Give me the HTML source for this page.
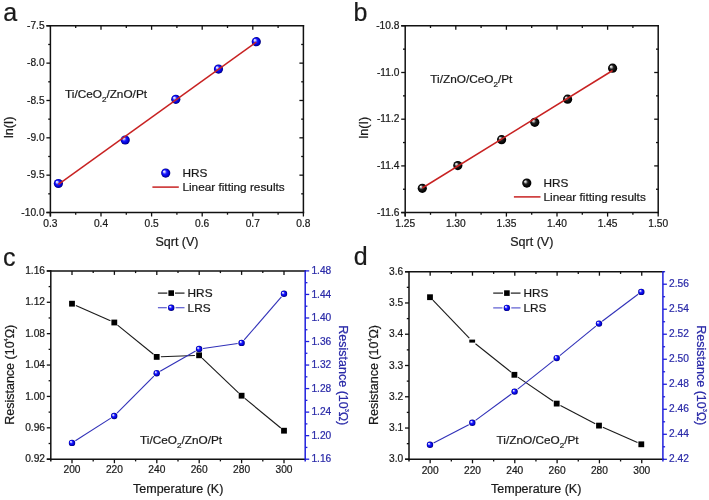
<!DOCTYPE html><html><head><meta charset="utf-8"><style>html,body{margin:0;padding:0;background:#fff;}svg{display:block;will-change:transform;}</style></head><body>
<svg width="709" height="500" viewBox="0 0 709 500" font-family="Liberation Sans, sans-serif">
<defs><radialGradient id="gb" cx="0.5" cy="0.5" r="0.5" fx="0.3" fy="0.3"><stop offset="0" stop-color="#ffffff"/><stop offset="0.18" stop-color="#c8c8ff"/><stop offset="0.45" stop-color="#1c1cff"/><stop offset="0.8" stop-color="#0000d0"/><stop offset="1" stop-color="#000070"/></radialGradient><radialGradient id="gk" cx="0.5" cy="0.5" r="0.5" fx="0.3" fy="0.3"><stop offset="0" stop-color="#ffffff"/><stop offset="0.2" stop-color="#bbbbbb"/><stop offset="0.45" stop-color="#222"/><stop offset="0.8" stop-color="#050505"/><stop offset="1" stop-color="#000"/></radialGradient></defs>
<rect width="709" height="500" fill="#fff"/>
<line x1="75.7" y1="212.5" x2="75.7" y2="214.7" stroke="#111" stroke-width="1.3" stroke-linecap="butt"/>
<line x1="75.7" y1="25.8" x2="75.7" y2="28" stroke="#111" stroke-width="1.3" stroke-linecap="butt"/>
<line x1="101" y1="212.5" x2="101" y2="216.5" stroke="#111" stroke-width="1.3" stroke-linecap="butt"/>
<line x1="101" y1="25.8" x2="101" y2="29.8" stroke="#111" stroke-width="1.3" stroke-linecap="butt"/>
<line x1="126.3" y1="212.5" x2="126.3" y2="214.7" stroke="#111" stroke-width="1.3" stroke-linecap="butt"/>
<line x1="126.3" y1="25.8" x2="126.3" y2="28" stroke="#111" stroke-width="1.3" stroke-linecap="butt"/>
<line x1="151.6" y1="212.5" x2="151.6" y2="216.5" stroke="#111" stroke-width="1.3" stroke-linecap="butt"/>
<line x1="151.6" y1="25.8" x2="151.6" y2="29.8" stroke="#111" stroke-width="1.3" stroke-linecap="butt"/>
<line x1="176.9" y1="212.5" x2="176.9" y2="214.7" stroke="#111" stroke-width="1.3" stroke-linecap="butt"/>
<line x1="176.9" y1="25.8" x2="176.9" y2="28" stroke="#111" stroke-width="1.3" stroke-linecap="butt"/>
<line x1="202.2" y1="212.5" x2="202.2" y2="216.5" stroke="#111" stroke-width="1.3" stroke-linecap="butt"/>
<line x1="202.2" y1="25.8" x2="202.2" y2="29.8" stroke="#111" stroke-width="1.3" stroke-linecap="butt"/>
<line x1="227.5" y1="212.5" x2="227.5" y2="214.7" stroke="#111" stroke-width="1.3" stroke-linecap="butt"/>
<line x1="227.5" y1="25.8" x2="227.5" y2="28" stroke="#111" stroke-width="1.3" stroke-linecap="butt"/>
<line x1="252.8" y1="212.5" x2="252.8" y2="216.5" stroke="#111" stroke-width="1.3" stroke-linecap="butt"/>
<line x1="252.8" y1="25.8" x2="252.8" y2="29.8" stroke="#111" stroke-width="1.3" stroke-linecap="butt"/>
<line x1="278.1" y1="212.5" x2="278.1" y2="214.7" stroke="#111" stroke-width="1.3" stroke-linecap="butt"/>
<line x1="278.1" y1="25.8" x2="278.1" y2="28" stroke="#111" stroke-width="1.3" stroke-linecap="butt"/>
<line x1="46.4" y1="212.5" x2="50.4" y2="212.5" stroke="#111" stroke-width="1.3" stroke-linecap="butt"/>
<line x1="48.2" y1="193.83" x2="50.4" y2="193.83" stroke="#111" stroke-width="1.3" stroke-linecap="butt"/>
<line x1="301.2" y1="193.83" x2="303.4" y2="193.83" stroke="#111" stroke-width="1.3" stroke-linecap="butt"/>
<line x1="46.4" y1="175.16" x2="50.4" y2="175.16" stroke="#111" stroke-width="1.3" stroke-linecap="butt"/>
<line x1="299.4" y1="175.16" x2="303.4" y2="175.16" stroke="#111" stroke-width="1.3" stroke-linecap="butt"/>
<line x1="48.2" y1="156.49" x2="50.4" y2="156.49" stroke="#111" stroke-width="1.3" stroke-linecap="butt"/>
<line x1="301.2" y1="156.49" x2="303.4" y2="156.49" stroke="#111" stroke-width="1.3" stroke-linecap="butt"/>
<line x1="46.4" y1="137.82" x2="50.4" y2="137.82" stroke="#111" stroke-width="1.3" stroke-linecap="butt"/>
<line x1="299.4" y1="137.82" x2="303.4" y2="137.82" stroke="#111" stroke-width="1.3" stroke-linecap="butt"/>
<line x1="48.2" y1="119.15" x2="50.4" y2="119.15" stroke="#111" stroke-width="1.3" stroke-linecap="butt"/>
<line x1="301.2" y1="119.15" x2="303.4" y2="119.15" stroke="#111" stroke-width="1.3" stroke-linecap="butt"/>
<line x1="46.4" y1="100.48" x2="50.4" y2="100.48" stroke="#111" stroke-width="1.3" stroke-linecap="butt"/>
<line x1="299.4" y1="100.48" x2="303.4" y2="100.48" stroke="#111" stroke-width="1.3" stroke-linecap="butt"/>
<line x1="48.2" y1="81.81" x2="50.4" y2="81.81" stroke="#111" stroke-width="1.3" stroke-linecap="butt"/>
<line x1="301.2" y1="81.81" x2="303.4" y2="81.81" stroke="#111" stroke-width="1.3" stroke-linecap="butt"/>
<line x1="46.4" y1="63.14" x2="50.4" y2="63.14" stroke="#111" stroke-width="1.3" stroke-linecap="butt"/>
<line x1="299.4" y1="63.14" x2="303.4" y2="63.14" stroke="#111" stroke-width="1.3" stroke-linecap="butt"/>
<line x1="48.2" y1="44.47" x2="50.4" y2="44.47" stroke="#111" stroke-width="1.3" stroke-linecap="butt"/>
<line x1="301.2" y1="44.47" x2="303.4" y2="44.47" stroke="#111" stroke-width="1.3" stroke-linecap="butt"/>
<line x1="46.4" y1="25.8" x2="50.4" y2="25.8" stroke="#111" stroke-width="1.3" stroke-linecap="butt"/>
<line x1="50.4" y1="212.5" x2="50.4" y2="216.5" stroke="#111" stroke-width="1.3" stroke-linecap="butt"/>
<line x1="303.4" y1="212.5" x2="303.4" y2="216.5" stroke="#111" stroke-width="1.3" stroke-linecap="butt"/>
<text x="50.4" y="226.7" font-size="10.2" text-anchor="middle" fill="#1a1a1a" stroke="#1a1a1a" stroke-width="0.22" >0.3</text>
<text x="101" y="226.7" font-size="10.2" text-anchor="middle" fill="#1a1a1a" stroke="#1a1a1a" stroke-width="0.22" >0.4</text>
<text x="151.6" y="226.7" font-size="10.2" text-anchor="middle" fill="#1a1a1a" stroke="#1a1a1a" stroke-width="0.22" >0.5</text>
<text x="202.2" y="226.7" font-size="10.2" text-anchor="middle" fill="#1a1a1a" stroke="#1a1a1a" stroke-width="0.22" >0.6</text>
<text x="252.8" y="226.7" font-size="10.2" text-anchor="middle" fill="#1a1a1a" stroke="#1a1a1a" stroke-width="0.22" >0.7</text>
<text x="303.4" y="226.7" font-size="10.2" text-anchor="middle" fill="#1a1a1a" stroke="#1a1a1a" stroke-width="0.22" >0.8</text>
<text x="44.6" y="215.6" font-size="10.2" text-anchor="end" fill="#1a1a1a" stroke="#1a1a1a" stroke-width="0.22" >-10.0</text>
<text x="44.6" y="178.26" font-size="10.2" text-anchor="end" fill="#1a1a1a" stroke="#1a1a1a" stroke-width="0.22" >-9.5</text>
<text x="44.6" y="140.92" font-size="10.2" text-anchor="end" fill="#1a1a1a" stroke="#1a1a1a" stroke-width="0.22" >-9.0</text>
<text x="44.6" y="103.58" font-size="10.2" text-anchor="end" fill="#1a1a1a" stroke="#1a1a1a" stroke-width="0.22" >-8.5</text>
<text x="44.6" y="66.24" font-size="10.2" text-anchor="end" fill="#1a1a1a" stroke="#1a1a1a" stroke-width="0.22" >-8.0</text>
<text x="44.6" y="28.9" font-size="10.2" text-anchor="end" fill="#1a1a1a" stroke="#1a1a1a" stroke-width="0.22" >-7.5</text>
<line x1="46.4" y1="25.8" x2="304.15" y2="25.8" stroke="#111" stroke-width="1.5" stroke-linecap="butt"/>
<line x1="46.4" y1="212.5" x2="304.15" y2="212.5" stroke="#111" stroke-width="1.5" stroke-linecap="butt"/>
<line x1="50.4" y1="25.05" x2="50.4" y2="216.5" stroke="#111" stroke-width="1.5" stroke-linecap="butt"/>
<line x1="303.4" y1="25.05" x2="303.4" y2="213.25" stroke="#111" stroke-width="1.5" stroke-linecap="butt"/>
<circle cx="58.4" cy="183.5" r="4.6" fill="url(#gb)"/>
<circle cx="125.2" cy="140" r="4.6" fill="url(#gb)"/>
<circle cx="175.8" cy="99.3" r="4.6" fill="url(#gb)"/>
<circle cx="218.5" cy="69.1" r="4.6" fill="url(#gb)"/>
<circle cx="256.3" cy="41.7" r="4.6" fill="url(#gb)"/>
<line x1="58.4" y1="184.3" x2="256.3" y2="42" stroke="#c82222" stroke-width="1.5" stroke-linecap="butt"/>
<circle cx="165.7" cy="173.1" r="4.6" fill="url(#gb)"/>
<text x="182.4" y="176.9" font-size="11.8" text-anchor="start" fill="#1a1a1a" stroke="#1a1a1a" stroke-width="0.22" >HRS</text>
<line x1="152.4" y1="187.1" x2="178.8" y2="187.1" stroke="#c82222" stroke-width="1.5" stroke-linecap="butt"/>
<text x="182.4" y="191.3" font-size="11.8" text-anchor="start" fill="#1a1a1a" stroke="#1a1a1a" stroke-width="0.22" >Linear fitting results</text>
<text x="65" y="98.2" font-size="11.8" text-anchor="start" fill="#1a1a1a" stroke="#1a1a1a" stroke-width="0.22" >Ti/CeO<tspan font-size="8" dy="4.2">2</tspan><tspan dy="-4.2">/ZnO/Pt</tspan></text>
<text x="177" y="246" font-size="12.5" text-anchor="middle" fill="#1a1a1a" stroke="#1a1a1a" stroke-width="0.22" >Sqrt (V)</text>
<text transform="translate(13.2,127.3) rotate(-90)" x="0" y="0" font-size="12.5" text-anchor="middle" fill="#1a1a1a" stroke="#1a1a1a" stroke-width="0.22">ln(I)</text>
<text x="3.2" y="20.6" font-size="25" text-anchor="start" fill="#1a1a1a" stroke="#1a1a1a" stroke-width="0.22" >a</text>
<line x1="430.5" y1="212.6" x2="430.5" y2="214.8" stroke="#111" stroke-width="1.3" stroke-linecap="butt"/>
<line x1="430.5" y1="25.8" x2="430.5" y2="28" stroke="#111" stroke-width="1.3" stroke-linecap="butt"/>
<line x1="455.8" y1="212.6" x2="455.8" y2="216.6" stroke="#111" stroke-width="1.3" stroke-linecap="butt"/>
<line x1="455.8" y1="25.8" x2="455.8" y2="29.8" stroke="#111" stroke-width="1.3" stroke-linecap="butt"/>
<line x1="481.1" y1="212.6" x2="481.1" y2="214.8" stroke="#111" stroke-width="1.3" stroke-linecap="butt"/>
<line x1="481.1" y1="25.8" x2="481.1" y2="28" stroke="#111" stroke-width="1.3" stroke-linecap="butt"/>
<line x1="506.4" y1="212.6" x2="506.4" y2="216.6" stroke="#111" stroke-width="1.3" stroke-linecap="butt"/>
<line x1="506.4" y1="25.8" x2="506.4" y2="29.8" stroke="#111" stroke-width="1.3" stroke-linecap="butt"/>
<line x1="531.7" y1="212.6" x2="531.7" y2="214.8" stroke="#111" stroke-width="1.3" stroke-linecap="butt"/>
<line x1="531.7" y1="25.8" x2="531.7" y2="28" stroke="#111" stroke-width="1.3" stroke-linecap="butt"/>
<line x1="557" y1="212.6" x2="557" y2="216.6" stroke="#111" stroke-width="1.3" stroke-linecap="butt"/>
<line x1="557" y1="25.8" x2="557" y2="29.8" stroke="#111" stroke-width="1.3" stroke-linecap="butt"/>
<line x1="582.3" y1="212.6" x2="582.3" y2="214.8" stroke="#111" stroke-width="1.3" stroke-linecap="butt"/>
<line x1="582.3" y1="25.8" x2="582.3" y2="28" stroke="#111" stroke-width="1.3" stroke-linecap="butt"/>
<line x1="607.6" y1="212.6" x2="607.6" y2="216.6" stroke="#111" stroke-width="1.3" stroke-linecap="butt"/>
<line x1="607.6" y1="25.8" x2="607.6" y2="29.8" stroke="#111" stroke-width="1.3" stroke-linecap="butt"/>
<line x1="632.9" y1="212.6" x2="632.9" y2="214.8" stroke="#111" stroke-width="1.3" stroke-linecap="butt"/>
<line x1="632.9" y1="25.8" x2="632.9" y2="28" stroke="#111" stroke-width="1.3" stroke-linecap="butt"/>
<line x1="401.2" y1="212.6" x2="405.2" y2="212.6" stroke="#111" stroke-width="1.3" stroke-linecap="butt"/>
<line x1="403" y1="189.25" x2="405.2" y2="189.25" stroke="#111" stroke-width="1.3" stroke-linecap="butt"/>
<line x1="656" y1="189.25" x2="658.2" y2="189.25" stroke="#111" stroke-width="1.3" stroke-linecap="butt"/>
<line x1="401.2" y1="165.9" x2="405.2" y2="165.9" stroke="#111" stroke-width="1.3" stroke-linecap="butt"/>
<line x1="654.2" y1="165.9" x2="658.2" y2="165.9" stroke="#111" stroke-width="1.3" stroke-linecap="butt"/>
<line x1="403" y1="142.55" x2="405.2" y2="142.55" stroke="#111" stroke-width="1.3" stroke-linecap="butt"/>
<line x1="656" y1="142.55" x2="658.2" y2="142.55" stroke="#111" stroke-width="1.3" stroke-linecap="butt"/>
<line x1="401.2" y1="119.2" x2="405.2" y2="119.2" stroke="#111" stroke-width="1.3" stroke-linecap="butt"/>
<line x1="654.2" y1="119.2" x2="658.2" y2="119.2" stroke="#111" stroke-width="1.3" stroke-linecap="butt"/>
<line x1="403" y1="95.85" x2="405.2" y2="95.85" stroke="#111" stroke-width="1.3" stroke-linecap="butt"/>
<line x1="656" y1="95.85" x2="658.2" y2="95.85" stroke="#111" stroke-width="1.3" stroke-linecap="butt"/>
<line x1="401.2" y1="72.5" x2="405.2" y2="72.5" stroke="#111" stroke-width="1.3" stroke-linecap="butt"/>
<line x1="654.2" y1="72.5" x2="658.2" y2="72.5" stroke="#111" stroke-width="1.3" stroke-linecap="butt"/>
<line x1="403" y1="49.15" x2="405.2" y2="49.15" stroke="#111" stroke-width="1.3" stroke-linecap="butt"/>
<line x1="656" y1="49.15" x2="658.2" y2="49.15" stroke="#111" stroke-width="1.3" stroke-linecap="butt"/>
<line x1="401.2" y1="25.8" x2="405.2" y2="25.8" stroke="#111" stroke-width="1.3" stroke-linecap="butt"/>
<line x1="405.2" y1="212.6" x2="405.2" y2="216.6" stroke="#111" stroke-width="1.3" stroke-linecap="butt"/>
<line x1="658.2" y1="212.6" x2="658.2" y2="216.6" stroke="#111" stroke-width="1.3" stroke-linecap="butt"/>
<text x="405.2" y="226.8" font-size="10.2" text-anchor="middle" fill="#1a1a1a" stroke="#1a1a1a" stroke-width="0.22" >1.25</text>
<text x="455.8" y="226.8" font-size="10.2" text-anchor="middle" fill="#1a1a1a" stroke="#1a1a1a" stroke-width="0.22" >1.30</text>
<text x="506.4" y="226.8" font-size="10.2" text-anchor="middle" fill="#1a1a1a" stroke="#1a1a1a" stroke-width="0.22" >1.35</text>
<text x="557" y="226.8" font-size="10.2" text-anchor="middle" fill="#1a1a1a" stroke="#1a1a1a" stroke-width="0.22" >1.40</text>
<text x="607.6" y="226.8" font-size="10.2" text-anchor="middle" fill="#1a1a1a" stroke="#1a1a1a" stroke-width="0.22" >1.45</text>
<text x="658.2" y="226.8" font-size="10.2" text-anchor="middle" fill="#1a1a1a" stroke="#1a1a1a" stroke-width="0.22" >1.50</text>
<text x="399.4" y="215.7" font-size="10.2" text-anchor="end" fill="#1a1a1a" stroke="#1a1a1a" stroke-width="0.22" >-11.6</text>
<text x="399.4" y="169" font-size="10.2" text-anchor="end" fill="#1a1a1a" stroke="#1a1a1a" stroke-width="0.22" >-11.4</text>
<text x="399.4" y="122.3" font-size="10.2" text-anchor="end" fill="#1a1a1a" stroke="#1a1a1a" stroke-width="0.22" >-11.2</text>
<text x="399.4" y="75.6" font-size="10.2" text-anchor="end" fill="#1a1a1a" stroke="#1a1a1a" stroke-width="0.22" >-11.0</text>
<text x="399.4" y="28.9" font-size="10.2" text-anchor="end" fill="#1a1a1a" stroke="#1a1a1a" stroke-width="0.22" >-10.8</text>
<line x1="401.2" y1="25.8" x2="658.95" y2="25.8" stroke="#111" stroke-width="1.5" stroke-linecap="butt"/>
<line x1="401.2" y1="212.6" x2="658.95" y2="212.6" stroke="#111" stroke-width="1.5" stroke-linecap="butt"/>
<line x1="405.2" y1="25.05" x2="405.2" y2="216.6" stroke="#111" stroke-width="1.5" stroke-linecap="butt"/>
<line x1="658.2" y1="25.05" x2="658.2" y2="213.35" stroke="#111" stroke-width="1.5" stroke-linecap="butt"/>
<circle cx="422.3" cy="188.3" r="4.6" fill="url(#gk)"/>
<circle cx="457.8" cy="165.6" r="4.6" fill="url(#gk)"/>
<circle cx="501.6" cy="139.7" r="4.6" fill="url(#gk)"/>
<circle cx="534.8" cy="122.3" r="4.6" fill="url(#gk)"/>
<circle cx="567.6" cy="99.2" r="4.6" fill="url(#gk)"/>
<circle cx="612.6" cy="68.2" r="4.6" fill="url(#gk)"/>
<line x1="422.3" y1="188" x2="612.6" y2="70.5" stroke="#c82222" stroke-width="1.5" stroke-linecap="butt"/>
<circle cx="526.8" cy="183.1" r="4.6" fill="url(#gk)"/>
<text x="543.5" y="186.9" font-size="11.8" text-anchor="start" fill="#1a1a1a" stroke="#1a1a1a" stroke-width="0.22" >HRS</text>
<line x1="513.9" y1="196.9" x2="540.5" y2="196.9" stroke="#c82222" stroke-width="1.5" stroke-linecap="butt"/>
<text x="543.5" y="201.3" font-size="11.8" text-anchor="start" fill="#1a1a1a" stroke="#1a1a1a" stroke-width="0.22" >Linear fitting results</text>
<text x="430.3" y="83.1" font-size="11.8" text-anchor="start" fill="#1a1a1a" stroke="#1a1a1a" stroke-width="0.22" >Ti/ZnO/CeO<tspan font-size="8" dy="4.2">2</tspan><tspan dy="-4.2">/Pt</tspan></text>
<text x="531.8" y="245.8" font-size="12.5" text-anchor="middle" fill="#1a1a1a" stroke="#1a1a1a" stroke-width="0.22" >Sqrt (V)</text>
<text transform="translate(367.6,127.7) rotate(-90)" x="0" y="0" font-size="12.5" text-anchor="middle" fill="#1a1a1a" stroke="#1a1a1a" stroke-width="0.22">ln(I)</text>
<text x="353.5" y="21" font-size="25" text-anchor="start" fill="#1a1a1a" stroke="#1a1a1a" stroke-width="0.22" >b</text>
<line x1="72" y1="459.2" x2="72" y2="463.2" stroke="#111" stroke-width="1.3" stroke-linecap="butt"/>
<line x1="72" y1="270.9" x2="72" y2="274.9" stroke="#111" stroke-width="1.3" stroke-linecap="butt"/>
<line x1="93.2" y1="459.2" x2="93.2" y2="461.4" stroke="#111" stroke-width="1.3" stroke-linecap="butt"/>
<line x1="93.2" y1="270.9" x2="93.2" y2="273.1" stroke="#111" stroke-width="1.3" stroke-linecap="butt"/>
<line x1="114.4" y1="459.2" x2="114.4" y2="463.2" stroke="#111" stroke-width="1.3" stroke-linecap="butt"/>
<line x1="114.4" y1="270.9" x2="114.4" y2="274.9" stroke="#111" stroke-width="1.3" stroke-linecap="butt"/>
<line x1="135.6" y1="459.2" x2="135.6" y2="461.4" stroke="#111" stroke-width="1.3" stroke-linecap="butt"/>
<line x1="135.6" y1="270.9" x2="135.6" y2="273.1" stroke="#111" stroke-width="1.3" stroke-linecap="butt"/>
<line x1="156.8" y1="459.2" x2="156.8" y2="463.2" stroke="#111" stroke-width="1.3" stroke-linecap="butt"/>
<line x1="156.8" y1="270.9" x2="156.8" y2="274.9" stroke="#111" stroke-width="1.3" stroke-linecap="butt"/>
<line x1="178" y1="459.2" x2="178" y2="461.4" stroke="#111" stroke-width="1.3" stroke-linecap="butt"/>
<line x1="178" y1="270.9" x2="178" y2="273.1" stroke="#111" stroke-width="1.3" stroke-linecap="butt"/>
<line x1="199.2" y1="459.2" x2="199.2" y2="463.2" stroke="#111" stroke-width="1.3" stroke-linecap="butt"/>
<line x1="199.2" y1="270.9" x2="199.2" y2="274.9" stroke="#111" stroke-width="1.3" stroke-linecap="butt"/>
<line x1="220.4" y1="459.2" x2="220.4" y2="461.4" stroke="#111" stroke-width="1.3" stroke-linecap="butt"/>
<line x1="220.4" y1="270.9" x2="220.4" y2="273.1" stroke="#111" stroke-width="1.3" stroke-linecap="butt"/>
<line x1="241.6" y1="459.2" x2="241.6" y2="463.2" stroke="#111" stroke-width="1.3" stroke-linecap="butt"/>
<line x1="241.6" y1="270.9" x2="241.6" y2="274.9" stroke="#111" stroke-width="1.3" stroke-linecap="butt"/>
<line x1="262.8" y1="459.2" x2="262.8" y2="461.4" stroke="#111" stroke-width="1.3" stroke-linecap="butt"/>
<line x1="262.8" y1="270.9" x2="262.8" y2="273.1" stroke="#111" stroke-width="1.3" stroke-linecap="butt"/>
<line x1="284" y1="459.2" x2="284" y2="463.2" stroke="#111" stroke-width="1.3" stroke-linecap="butt"/>
<line x1="284" y1="270.9" x2="284" y2="274.9" stroke="#111" stroke-width="1.3" stroke-linecap="butt"/>
<line x1="46.8" y1="459.2" x2="50.8" y2="459.2" stroke="#111" stroke-width="1.3" stroke-linecap="butt"/>
<line x1="48.6" y1="443.51" x2="50.8" y2="443.51" stroke="#111" stroke-width="1.3" stroke-linecap="butt"/>
<line x1="46.8" y1="427.82" x2="50.8" y2="427.82" stroke="#111" stroke-width="1.3" stroke-linecap="butt"/>
<line x1="48.6" y1="412.12" x2="50.8" y2="412.12" stroke="#111" stroke-width="1.3" stroke-linecap="butt"/>
<line x1="46.8" y1="396.43" x2="50.8" y2="396.43" stroke="#111" stroke-width="1.3" stroke-linecap="butt"/>
<line x1="48.6" y1="380.74" x2="50.8" y2="380.74" stroke="#111" stroke-width="1.3" stroke-linecap="butt"/>
<line x1="46.8" y1="365.05" x2="50.8" y2="365.05" stroke="#111" stroke-width="1.3" stroke-linecap="butt"/>
<line x1="48.6" y1="349.36" x2="50.8" y2="349.36" stroke="#111" stroke-width="1.3" stroke-linecap="butt"/>
<line x1="46.8" y1="333.67" x2="50.8" y2="333.67" stroke="#111" stroke-width="1.3" stroke-linecap="butt"/>
<line x1="48.6" y1="317.97" x2="50.8" y2="317.97" stroke="#111" stroke-width="1.3" stroke-linecap="butt"/>
<line x1="46.8" y1="302.28" x2="50.8" y2="302.28" stroke="#111" stroke-width="1.3" stroke-linecap="butt"/>
<line x1="48.6" y1="286.59" x2="50.8" y2="286.59" stroke="#111" stroke-width="1.3" stroke-linecap="butt"/>
<line x1="46.8" y1="270.9" x2="50.8" y2="270.9" stroke="#111" stroke-width="1.3" stroke-linecap="butt"/>
<text x="72" y="473.4" font-size="10.2" text-anchor="middle" fill="#1a1a1a" stroke="#1a1a1a" stroke-width="0.22" >200</text>
<text x="114.4" y="473.4" font-size="10.2" text-anchor="middle" fill="#1a1a1a" stroke="#1a1a1a" stroke-width="0.22" >220</text>
<text x="156.8" y="473.4" font-size="10.2" text-anchor="middle" fill="#1a1a1a" stroke="#1a1a1a" stroke-width="0.22" >240</text>
<text x="199.2" y="473.4" font-size="10.2" text-anchor="middle" fill="#1a1a1a" stroke="#1a1a1a" stroke-width="0.22" >260</text>
<text x="241.6" y="473.4" font-size="10.2" text-anchor="middle" fill="#1a1a1a" stroke="#1a1a1a" stroke-width="0.22" >280</text>
<text x="284" y="473.4" font-size="10.2" text-anchor="middle" fill="#1a1a1a" stroke="#1a1a1a" stroke-width="0.22" >300</text>
<text x="45" y="462.3" font-size="10.2" text-anchor="end" fill="#1a1a1a" stroke="#1a1a1a" stroke-width="0.22" >0.92</text>
<text x="45" y="430.92" font-size="10.2" text-anchor="end" fill="#1a1a1a" stroke="#1a1a1a" stroke-width="0.22" >0.96</text>
<text x="45" y="399.53" font-size="10.2" text-anchor="end" fill="#1a1a1a" stroke="#1a1a1a" stroke-width="0.22" >1.00</text>
<text x="45" y="368.15" font-size="10.2" text-anchor="end" fill="#1a1a1a" stroke="#1a1a1a" stroke-width="0.22" >1.04</text>
<text x="45" y="336.77" font-size="10.2" text-anchor="end" fill="#1a1a1a" stroke="#1a1a1a" stroke-width="0.22" >1.08</text>
<text x="45" y="305.38" font-size="10.2" text-anchor="end" fill="#1a1a1a" stroke="#1a1a1a" stroke-width="0.22" >1.12</text>
<text x="45" y="274" font-size="10.2" text-anchor="end" fill="#1a1a1a" stroke="#1a1a1a" stroke-width="0.22" >1.16</text>
<line x1="305.2" y1="459.2" x2="309.2" y2="459.2" stroke="#2020dd" stroke-width="1.3" stroke-linecap="butt"/>
<line x1="305.2" y1="447.43" x2="307.4" y2="447.43" stroke="#2020dd" stroke-width="1.3" stroke-linecap="butt"/>
<line x1="305.2" y1="435.66" x2="309.2" y2="435.66" stroke="#2020dd" stroke-width="1.3" stroke-linecap="butt"/>
<line x1="305.2" y1="423.89" x2="307.4" y2="423.89" stroke="#2020dd" stroke-width="1.3" stroke-linecap="butt"/>
<line x1="305.2" y1="412.12" x2="309.2" y2="412.12" stroke="#2020dd" stroke-width="1.3" stroke-linecap="butt"/>
<line x1="305.2" y1="400.36" x2="307.4" y2="400.36" stroke="#2020dd" stroke-width="1.3" stroke-linecap="butt"/>
<line x1="305.2" y1="388.59" x2="309.2" y2="388.59" stroke="#2020dd" stroke-width="1.3" stroke-linecap="butt"/>
<line x1="305.2" y1="376.82" x2="307.4" y2="376.82" stroke="#2020dd" stroke-width="1.3" stroke-linecap="butt"/>
<line x1="305.2" y1="365.05" x2="309.2" y2="365.05" stroke="#2020dd" stroke-width="1.3" stroke-linecap="butt"/>
<line x1="305.2" y1="353.28" x2="307.4" y2="353.28" stroke="#2020dd" stroke-width="1.3" stroke-linecap="butt"/>
<line x1="305.2" y1="341.51" x2="309.2" y2="341.51" stroke="#2020dd" stroke-width="1.3" stroke-linecap="butt"/>
<line x1="305.2" y1="329.74" x2="307.4" y2="329.74" stroke="#2020dd" stroke-width="1.3" stroke-linecap="butt"/>
<line x1="305.2" y1="317.98" x2="309.2" y2="317.98" stroke="#2020dd" stroke-width="1.3" stroke-linecap="butt"/>
<line x1="305.2" y1="306.21" x2="307.4" y2="306.21" stroke="#2020dd" stroke-width="1.3" stroke-linecap="butt"/>
<line x1="305.2" y1="294.44" x2="309.2" y2="294.44" stroke="#2020dd" stroke-width="1.3" stroke-linecap="butt"/>
<line x1="305.2" y1="282.67" x2="307.4" y2="282.67" stroke="#2020dd" stroke-width="1.3" stroke-linecap="butt"/>
<line x1="305.2" y1="270.9" x2="309.2" y2="270.9" stroke="#2020dd" stroke-width="1.3" stroke-linecap="butt"/>
<text x="311.4" y="462.3" font-size="10.2" text-anchor="start" fill="#2a2aa8" stroke="#2a2aa8" stroke-width="0.22" >1.16</text>
<text x="311.4" y="438.76" font-size="10.2" text-anchor="start" fill="#2a2aa8" stroke="#2a2aa8" stroke-width="0.22" >1.20</text>
<text x="311.4" y="415.22" font-size="10.2" text-anchor="start" fill="#2a2aa8" stroke="#2a2aa8" stroke-width="0.22" >1.24</text>
<text x="311.4" y="391.69" font-size="10.2" text-anchor="start" fill="#2a2aa8" stroke="#2a2aa8" stroke-width="0.22" >1.28</text>
<text x="311.4" y="368.15" font-size="10.2" text-anchor="start" fill="#2a2aa8" stroke="#2a2aa8" stroke-width="0.22" >1.32</text>
<text x="311.4" y="344.61" font-size="10.2" text-anchor="start" fill="#2a2aa8" stroke="#2a2aa8" stroke-width="0.22" >1.36</text>
<text x="311.4" y="321.08" font-size="10.2" text-anchor="start" fill="#2a2aa8" stroke="#2a2aa8" stroke-width="0.22" >1.40</text>
<text x="311.4" y="297.54" font-size="10.2" text-anchor="start" fill="#2a2aa8" stroke="#2a2aa8" stroke-width="0.22" >1.44</text>
<text x="311.4" y="274" font-size="10.2" text-anchor="start" fill="#2a2aa8" stroke="#2a2aa8" stroke-width="0.22" >1.48</text>
<line x1="46.8" y1="270.9" x2="305.95" y2="270.9" stroke="#111" stroke-width="1.5" stroke-linecap="butt"/>
<line x1="46.8" y1="459.2" x2="305.95" y2="459.2" stroke="#111" stroke-width="1.5" stroke-linecap="butt"/>
<line x1="50.8" y1="270.15" x2="50.8" y2="461.4" stroke="#111" stroke-width="1.5" stroke-linecap="butt"/>
<line x1="305.2" y1="270.15" x2="305.2" y2="461.4" stroke="#2020dd" stroke-width="1.5" stroke-linecap="butt"/>
<line x1="75.84" y1="305.41" x2="110.46" y2="320.79" stroke="#1a1a1a" stroke-width="1.1" stroke-linecap="butt"/>
<line x1="117.56" y1="325.15" x2="153.44" y2="354.25" stroke="#1a1a1a" stroke-width="1.1" stroke-linecap="butt"/>
<line x1="160.9" y1="356.74" x2="194.9" y2="355.46" stroke="#1a1a1a" stroke-width="1.1" stroke-linecap="butt"/>
<line x1="202.14" y1="358.19" x2="238.56" y2="392.81" stroke="#1a1a1a" stroke-width="1.1" stroke-linecap="butt"/>
<line x1="244.84" y1="398.37" x2="280.76" y2="428.03" stroke="#1a1a1a" stroke-width="1.1" stroke-linecap="butt"/>
<rect x="69.1" y="300.8" width="5.8" height="5.8" fill="#000"/>
<rect x="111.4" y="319.6" width="5.8" height="5.8" fill="#000"/>
<rect x="153.8" y="354" width="5.8" height="5.8" fill="#000"/>
<rect x="196.2" y="352.4" width="5.8" height="5.8" fill="#000"/>
<rect x="238.7" y="392.8" width="5.8" height="5.8" fill="#000"/>
<rect x="281.1" y="427.8" width="5.8" height="5.8" fill="#000"/>
<line x1="75.37" y1="440.75" x2="110.83" y2="418.15" stroke="#3030b8" stroke-width="1.1" stroke-linecap="butt"/>
<line x1="117.02" y1="413.16" x2="153.88" y2="376.04" stroke="#3030b8" stroke-width="1.1" stroke-linecap="butt"/>
<line x1="160.17" y1="371.22" x2="195.63" y2="350.98" stroke="#3030b8" stroke-width="1.1" stroke-linecap="butt"/>
<line x1="203.06" y1="348.43" x2="237.64" y2="343.47" stroke="#3030b8" stroke-width="1.1" stroke-linecap="butt"/>
<line x1="244.21" y1="339.87" x2="281.39" y2="296.83" stroke="#3030b8" stroke-width="1.1" stroke-linecap="butt"/>
<circle cx="72" cy="442.9" r="3.2" fill="url(#gb)"/>
<circle cx="114.2" cy="416" r="3.2" fill="url(#gb)"/>
<circle cx="156.7" cy="373.2" r="3.2" fill="url(#gb)"/>
<circle cx="199.1" cy="349" r="3.2" fill="url(#gb)"/>
<circle cx="241.6" cy="342.9" r="3.2" fill="url(#gb)"/>
<circle cx="284" cy="293.8" r="3.2" fill="url(#gb)"/>
<line x1="157.9" y1="293.1" x2="167.3" y2="293.1" stroke="#1a1a1a" stroke-width="1.2" stroke-linecap="butt"/>
<line x1="175" y1="293.1" x2="184.5" y2="293.1" stroke="#1a1a1a" stroke-width="1.2" stroke-linecap="butt"/>
<rect x="168.4" y="290.3" width="5.6" height="5.6" fill="#000"/>
<text x="187.6" y="297.1" font-size="11.8" text-anchor="start" fill="#1a1a1a" stroke="#1a1a1a" stroke-width="0.22" >HRS</text>
<line x1="157.9" y1="307.7" x2="166.8" y2="307.7" stroke="#5a5ad0" stroke-width="1.2" stroke-linecap="butt"/>
<line x1="175.6" y1="307.7" x2="184.5" y2="307.7" stroke="#5a5ad0" stroke-width="1.2" stroke-linecap="butt"/>
<circle cx="171.2" cy="307.7" r="3.2" fill="url(#gb)"/>
<text x="187.6" y="311.7" font-size="11.8" text-anchor="start" fill="#1a1a1a" stroke="#1a1a1a" stroke-width="0.22" >LRS</text>
<text x="140.1" y="444" font-size="11.8" text-anchor="start" fill="#1a1a1a" stroke="#1a1a1a" stroke-width="0.22" >Ti/CeO<tspan font-size="8" dy="4.2">2</tspan><tspan dy="-4.2">/ZnO/Pt</tspan></text>
<text x="178.2" y="493.2" font-size="12.5" text-anchor="middle" fill="#1a1a1a" stroke="#1a1a1a" stroke-width="0.22" >Temperature (K)</text>
<text transform="translate(14,374.8) rotate(-90)" x="0" y="0" font-size="12.5" text-anchor="middle" fill="#1a1a1a" stroke="#1a1a1a" stroke-width="0.22">Resistance (10<tspan font-size="5.5" dy="-6">4</tspan><tspan dy="6">Ω)</tspan></text>
<text transform="translate(339.2,375.3) rotate(90)" x="0" y="0" font-size="12.5" text-anchor="middle" fill="#2a2aa8" stroke="#2a2aa8" stroke-width="0.22">Resistance (10<tspan font-size="5.5" dy="-6">3</tspan><tspan dy="6">Ω)</tspan></text>
<text x="3" y="265.5" font-size="25" text-anchor="start" fill="#1a1a1a" stroke="#1a1a1a" stroke-width="0.22" >c</text>
<line x1="430.16" y1="459.3" x2="430.16" y2="463.3" stroke="#111" stroke-width="1.3" stroke-linecap="butt"/>
<line x1="430.16" y1="271.7" x2="430.16" y2="275.7" stroke="#111" stroke-width="1.3" stroke-linecap="butt"/>
<line x1="451.32" y1="459.3" x2="451.32" y2="461.5" stroke="#111" stroke-width="1.3" stroke-linecap="butt"/>
<line x1="451.32" y1="271.7" x2="451.32" y2="273.9" stroke="#111" stroke-width="1.3" stroke-linecap="butt"/>
<line x1="472.48" y1="459.3" x2="472.48" y2="463.3" stroke="#111" stroke-width="1.3" stroke-linecap="butt"/>
<line x1="472.48" y1="271.7" x2="472.48" y2="275.7" stroke="#111" stroke-width="1.3" stroke-linecap="butt"/>
<line x1="493.63" y1="459.3" x2="493.63" y2="461.5" stroke="#111" stroke-width="1.3" stroke-linecap="butt"/>
<line x1="493.63" y1="271.7" x2="493.63" y2="273.9" stroke="#111" stroke-width="1.3" stroke-linecap="butt"/>
<line x1="514.79" y1="459.3" x2="514.79" y2="463.3" stroke="#111" stroke-width="1.3" stroke-linecap="butt"/>
<line x1="514.79" y1="271.7" x2="514.79" y2="275.7" stroke="#111" stroke-width="1.3" stroke-linecap="butt"/>
<line x1="535.95" y1="459.3" x2="535.95" y2="461.5" stroke="#111" stroke-width="1.3" stroke-linecap="butt"/>
<line x1="535.95" y1="271.7" x2="535.95" y2="273.9" stroke="#111" stroke-width="1.3" stroke-linecap="butt"/>
<line x1="557.11" y1="459.3" x2="557.11" y2="463.3" stroke="#111" stroke-width="1.3" stroke-linecap="butt"/>
<line x1="557.11" y1="271.7" x2="557.11" y2="275.7" stroke="#111" stroke-width="1.3" stroke-linecap="butt"/>
<line x1="578.27" y1="459.3" x2="578.27" y2="461.5" stroke="#111" stroke-width="1.3" stroke-linecap="butt"/>
<line x1="578.27" y1="271.7" x2="578.27" y2="273.9" stroke="#111" stroke-width="1.3" stroke-linecap="butt"/>
<line x1="599.42" y1="459.3" x2="599.42" y2="463.3" stroke="#111" stroke-width="1.3" stroke-linecap="butt"/>
<line x1="599.42" y1="271.7" x2="599.42" y2="275.7" stroke="#111" stroke-width="1.3" stroke-linecap="butt"/>
<line x1="620.58" y1="459.3" x2="620.58" y2="461.5" stroke="#111" stroke-width="1.3" stroke-linecap="butt"/>
<line x1="620.58" y1="271.7" x2="620.58" y2="273.9" stroke="#111" stroke-width="1.3" stroke-linecap="butt"/>
<line x1="641.74" y1="459.3" x2="641.74" y2="463.3" stroke="#111" stroke-width="1.3" stroke-linecap="butt"/>
<line x1="641.74" y1="271.7" x2="641.74" y2="275.7" stroke="#111" stroke-width="1.3" stroke-linecap="butt"/>
<line x1="405" y1="459.3" x2="409" y2="459.3" stroke="#111" stroke-width="1.3" stroke-linecap="butt"/>
<line x1="406.8" y1="443.67" x2="409" y2="443.67" stroke="#111" stroke-width="1.3" stroke-linecap="butt"/>
<line x1="405" y1="428.03" x2="409" y2="428.03" stroke="#111" stroke-width="1.3" stroke-linecap="butt"/>
<line x1="406.8" y1="412.4" x2="409" y2="412.4" stroke="#111" stroke-width="1.3" stroke-linecap="butt"/>
<line x1="405" y1="396.77" x2="409" y2="396.77" stroke="#111" stroke-width="1.3" stroke-linecap="butt"/>
<line x1="406.8" y1="381.13" x2="409" y2="381.13" stroke="#111" stroke-width="1.3" stroke-linecap="butt"/>
<line x1="405" y1="365.5" x2="409" y2="365.5" stroke="#111" stroke-width="1.3" stroke-linecap="butt"/>
<line x1="406.8" y1="349.87" x2="409" y2="349.87" stroke="#111" stroke-width="1.3" stroke-linecap="butt"/>
<line x1="405" y1="334.23" x2="409" y2="334.23" stroke="#111" stroke-width="1.3" stroke-linecap="butt"/>
<line x1="406.8" y1="318.6" x2="409" y2="318.6" stroke="#111" stroke-width="1.3" stroke-linecap="butt"/>
<line x1="405" y1="302.97" x2="409" y2="302.97" stroke="#111" stroke-width="1.3" stroke-linecap="butt"/>
<line x1="406.8" y1="287.33" x2="409" y2="287.33" stroke="#111" stroke-width="1.3" stroke-linecap="butt"/>
<line x1="405" y1="271.7" x2="409" y2="271.7" stroke="#111" stroke-width="1.3" stroke-linecap="butt"/>
<text x="430.16" y="473.5" font-size="10.2" text-anchor="middle" fill="#1a1a1a" stroke="#1a1a1a" stroke-width="0.22" >200</text>
<text x="472.48" y="473.5" font-size="10.2" text-anchor="middle" fill="#1a1a1a" stroke="#1a1a1a" stroke-width="0.22" >220</text>
<text x="514.79" y="473.5" font-size="10.2" text-anchor="middle" fill="#1a1a1a" stroke="#1a1a1a" stroke-width="0.22" >240</text>
<text x="557.11" y="473.5" font-size="10.2" text-anchor="middle" fill="#1a1a1a" stroke="#1a1a1a" stroke-width="0.22" >260</text>
<text x="599.42" y="473.5" font-size="10.2" text-anchor="middle" fill="#1a1a1a" stroke="#1a1a1a" stroke-width="0.22" >280</text>
<text x="641.74" y="473.5" font-size="10.2" text-anchor="middle" fill="#1a1a1a" stroke="#1a1a1a" stroke-width="0.22" >300</text>
<text x="403.2" y="462.4" font-size="10.2" text-anchor="end" fill="#1a1a1a" stroke="#1a1a1a" stroke-width="0.22" >3.0</text>
<text x="403.2" y="431.13" font-size="10.2" text-anchor="end" fill="#1a1a1a" stroke="#1a1a1a" stroke-width="0.22" >3.1</text>
<text x="403.2" y="399.87" font-size="10.2" text-anchor="end" fill="#1a1a1a" stroke="#1a1a1a" stroke-width="0.22" >3.2</text>
<text x="403.2" y="368.6" font-size="10.2" text-anchor="end" fill="#1a1a1a" stroke="#1a1a1a" stroke-width="0.22" >3.3</text>
<text x="403.2" y="337.33" font-size="10.2" text-anchor="end" fill="#1a1a1a" stroke="#1a1a1a" stroke-width="0.22" >3.4</text>
<text x="403.2" y="306.07" font-size="10.2" text-anchor="end" fill="#1a1a1a" stroke="#1a1a1a" stroke-width="0.22" >3.5</text>
<text x="403.2" y="274.8" font-size="10.2" text-anchor="end" fill="#1a1a1a" stroke="#1a1a1a" stroke-width="0.22" >3.6</text>
<line x1="662.9" y1="459.3" x2="666.9" y2="459.3" stroke="#2020dd" stroke-width="1.3" stroke-linecap="butt"/>
<line x1="662.9" y1="446.79" x2="665.1" y2="446.79" stroke="#2020dd" stroke-width="1.3" stroke-linecap="butt"/>
<line x1="662.9" y1="434.29" x2="666.9" y2="434.29" stroke="#2020dd" stroke-width="1.3" stroke-linecap="butt"/>
<line x1="662.9" y1="421.78" x2="665.1" y2="421.78" stroke="#2020dd" stroke-width="1.3" stroke-linecap="butt"/>
<line x1="662.9" y1="409.27" x2="666.9" y2="409.27" stroke="#2020dd" stroke-width="1.3" stroke-linecap="butt"/>
<line x1="662.9" y1="396.77" x2="665.1" y2="396.77" stroke="#2020dd" stroke-width="1.3" stroke-linecap="butt"/>
<line x1="662.9" y1="384.26" x2="666.9" y2="384.26" stroke="#2020dd" stroke-width="1.3" stroke-linecap="butt"/>
<line x1="662.9" y1="371.75" x2="665.1" y2="371.75" stroke="#2020dd" stroke-width="1.3" stroke-linecap="butt"/>
<line x1="662.9" y1="359.25" x2="666.9" y2="359.25" stroke="#2020dd" stroke-width="1.3" stroke-linecap="butt"/>
<line x1="662.9" y1="346.74" x2="665.1" y2="346.74" stroke="#2020dd" stroke-width="1.3" stroke-linecap="butt"/>
<line x1="662.9" y1="334.23" x2="666.9" y2="334.23" stroke="#2020dd" stroke-width="1.3" stroke-linecap="butt"/>
<line x1="662.9" y1="321.73" x2="665.1" y2="321.73" stroke="#2020dd" stroke-width="1.3" stroke-linecap="butt"/>
<line x1="662.9" y1="309.22" x2="666.9" y2="309.22" stroke="#2020dd" stroke-width="1.3" stroke-linecap="butt"/>
<line x1="662.9" y1="296.71" x2="665.1" y2="296.71" stroke="#2020dd" stroke-width="1.3" stroke-linecap="butt"/>
<line x1="662.9" y1="284.21" x2="666.9" y2="284.21" stroke="#2020dd" stroke-width="1.3" stroke-linecap="butt"/>
<line x1="662.9" y1="271.7" x2="665.1" y2="271.7" stroke="#2020dd" stroke-width="1.3" stroke-linecap="butt"/>
<text x="669.1" y="462.4" font-size="10.2" text-anchor="start" fill="#2a2aa8" stroke="#2a2aa8" stroke-width="0.22" >2.42</text>
<text x="669.1" y="437.39" font-size="10.2" text-anchor="start" fill="#2a2aa8" stroke="#2a2aa8" stroke-width="0.22" >2.44</text>
<text x="669.1" y="412.37" font-size="10.2" text-anchor="start" fill="#2a2aa8" stroke="#2a2aa8" stroke-width="0.22" >2.46</text>
<text x="669.1" y="387.36" font-size="10.2" text-anchor="start" fill="#2a2aa8" stroke="#2a2aa8" stroke-width="0.22" >2.48</text>
<text x="669.1" y="362.35" font-size="10.2" text-anchor="start" fill="#2a2aa8" stroke="#2a2aa8" stroke-width="0.22" >2.50</text>
<text x="669.1" y="337.33" font-size="10.2" text-anchor="start" fill="#2a2aa8" stroke="#2a2aa8" stroke-width="0.22" >2.52</text>
<text x="669.1" y="312.32" font-size="10.2" text-anchor="start" fill="#2a2aa8" stroke="#2a2aa8" stroke-width="0.22" >2.54</text>
<text x="669.1" y="287.31" font-size="10.2" text-anchor="start" fill="#2a2aa8" stroke="#2a2aa8" stroke-width="0.22" >2.56</text>
<line x1="405" y1="271.7" x2="663.65" y2="271.7" stroke="#111" stroke-width="1.5" stroke-linecap="butt"/>
<line x1="405" y1="459.3" x2="663.65" y2="459.3" stroke="#111" stroke-width="1.5" stroke-linecap="butt"/>
<line x1="409" y1="270.95" x2="409" y2="461.5" stroke="#111" stroke-width="1.5" stroke-linecap="butt"/>
<line x1="662.9" y1="270.95" x2="662.9" y2="461.5" stroke="#2020dd" stroke-width="1.5" stroke-linecap="butt"/>
<line x1="432.91" y1="300.23" x2="469.29" y2="338.07" stroke="#1a1a1a" stroke-width="1.1" stroke-linecap="butt"/>
<line x1="475.48" y1="343.72" x2="511.12" y2="372.18" stroke="#1a1a1a" stroke-width="1.1" stroke-linecap="butt"/>
<line x1="517.87" y1="377.16" x2="553.23" y2="401.24" stroke="#1a1a1a" stroke-width="1.1" stroke-linecap="butt"/>
<line x1="560.43" y1="405.54" x2="595.27" y2="423.66" stroke="#1a1a1a" stroke-width="1.1" stroke-linecap="butt"/>
<line x1="602.84" y1="427.3" x2="637.46" y2="442.6" stroke="#1a1a1a" stroke-width="1.1" stroke-linecap="butt"/>
<rect x="427.1" y="294.3" width="5.8" height="5.8" fill="#000"/>
<rect x="469.3" y="339.6" width="5.8" height="3" fill="#000"/>
<rect x="511.5" y="371.9" width="5.8" height="5.8" fill="#000"/>
<rect x="553.8" y="400.7" width="5.8" height="5.8" fill="#000"/>
<rect x="596.1" y="422.7" width="5.8" height="5.8" fill="#000"/>
<rect x="638.4" y="441.4" width="5.8" height="5.8" fill="#000"/>
<line x1="433.55" y1="442.95" x2="468.75" y2="424.65" stroke="#3030b8" stroke-width="1.1" stroke-linecap="butt"/>
<line x1="475.52" y1="420.43" x2="511.38" y2="393.97" stroke="#3030b8" stroke-width="1.1" stroke-linecap="butt"/>
<line x1="517.73" y1="389.11" x2="553.57" y2="360.59" stroke="#3030b8" stroke-width="1.1" stroke-linecap="butt"/>
<line x1="559.8" y1="355.57" x2="595.9" y2="326.13" stroke="#3030b8" stroke-width="1.1" stroke-linecap="butt"/>
<line x1="602.2" y1="321.2" x2="638.1" y2="294.3" stroke="#3030b8" stroke-width="1.1" stroke-linecap="butt"/>
<circle cx="430" cy="444.8" r="3.2" fill="url(#gb)"/>
<circle cx="472.3" cy="422.8" r="3.2" fill="url(#gb)"/>
<circle cx="514.6" cy="391.6" r="3.2" fill="url(#gb)"/>
<circle cx="556.7" cy="358.1" r="3.2" fill="url(#gb)"/>
<circle cx="599" cy="323.6" r="3.2" fill="url(#gb)"/>
<circle cx="641.3" cy="291.9" r="3.2" fill="url(#gb)"/>
<line x1="493.2" y1="293.1" x2="503" y2="293.1" stroke="#1a1a1a" stroke-width="1.2" stroke-linecap="butt"/>
<line x1="510.8" y1="293.1" x2="520.5" y2="293.1" stroke="#1a1a1a" stroke-width="1.2" stroke-linecap="butt"/>
<rect x="504.1" y="290.3" width="5.6" height="5.6" fill="#000"/>
<text x="523.5" y="297.1" font-size="11.8" text-anchor="start" fill="#1a1a1a" stroke="#1a1a1a" stroke-width="0.22" >HRS</text>
<line x1="493.2" y1="307.9" x2="502.5" y2="307.9" stroke="#5a5ad0" stroke-width="1.2" stroke-linecap="butt"/>
<line x1="511.3" y1="307.9" x2="520.5" y2="307.9" stroke="#5a5ad0" stroke-width="1.2" stroke-linecap="butt"/>
<circle cx="506.9" cy="307.9" r="3.2" fill="url(#gb)"/>
<text x="523.5" y="311.9" font-size="11.8" text-anchor="start" fill="#1a1a1a" stroke="#1a1a1a" stroke-width="0.22" >LRS</text>
<text x="496.6" y="443.9" font-size="11.8" text-anchor="start" fill="#1a1a1a" stroke="#1a1a1a" stroke-width="0.22" >Ti/ZnO/CeO<tspan font-size="8" dy="4.2">2</tspan><tspan dy="-4.2">/Pt</tspan></text>
<text x="536.2" y="493.4" font-size="12.5" text-anchor="middle" fill="#1a1a1a" stroke="#1a1a1a" stroke-width="0.22" >Temperature (K)</text>
<text transform="translate(378,375) rotate(-90)" x="0" y="0" font-size="12.5" text-anchor="middle" fill="#1a1a1a" stroke="#1a1a1a" stroke-width="0.22">Resistance (10<tspan font-size="5.5" dy="-6">4</tspan><tspan dy="6">Ω)</tspan></text>
<text transform="translate(696.6,375.3) rotate(90)" x="0" y="0" font-size="12.5" text-anchor="middle" fill="#2a2aa8" stroke="#2a2aa8" stroke-width="0.22">Resistance (10<tspan font-size="5.5" dy="-6">3</tspan><tspan dy="6">Ω)</tspan></text>
<text x="353.7" y="264.8" font-size="25" text-anchor="start" fill="#1a1a1a" stroke="#1a1a1a" stroke-width="0.22" >d</text>
</svg></body></html>
